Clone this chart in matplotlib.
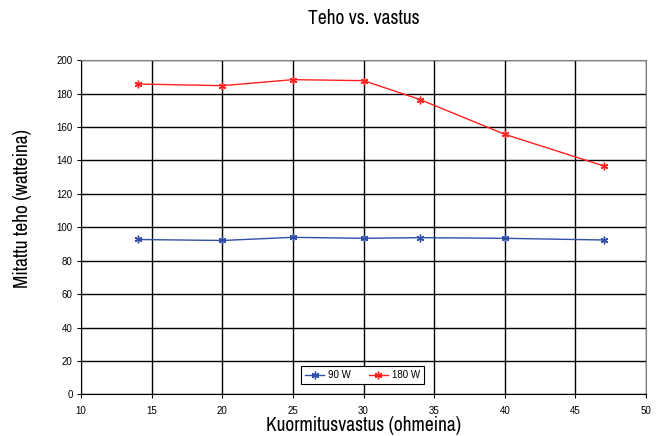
import matplotlib
matplotlib.use("Agg")
import matplotlib.pyplot as plt
from matplotlib import font_manager

# pick a condensed sans face if one is installed
fam, stretch = 'Liberation Sans', 'normal'
for f in font_manager.fontManager.ttflist:
    if 'Narrow' in f.name or 'Condensed' in f.name:
        fam, stretch = f.name, 'normal'
        break
else:
    for f in font_manager.fontManager.ttflist:
        if f.stretch in ('condensed', 'semi-condensed') or f.stretch in (300, 400 - 100):
            fam, stretch = f.name, f.stretch
            break
plt.rcParams['font.family'] = [fam, 'DejaVu Sans']
plt.rcParams['font.stretch'] = stretch
small = {'family': ['Liberation Sans', 'DejaVu Sans'], 'stretch': 'normal'}

resistance = [14, 20, 25, 30, 34, 40, 47]
power_90 = [92.7, 92.1, 94.0, 93.4, 93.8, 93.4, 92.4]
power_180 = [185.7, 184.7, 188.3, 187.7, 176.4, 155.6, 136.7]

fig = plt.figure(figsize=(6.62, 4.36), dpi=100)
ax = fig.add_axes([0.1224, 0.0952, 0.8535, 0.767])

star = (6, 2, 0)
ax.plot(resistance, power_90, color='#3050a8', lw=1, marker=star, ms=5.5, mew=1, label='90 W')
ax.plot(resistance, power_180, color='#ff2020', lw=1, marker=star, ms=5.5, mew=1, label='180 W')

ax.set_xlim(10, 50)
ax.set_ylim(0, 200)
ax.set_xticks(range(10, 51, 5))
ax.set_yticks(range(0, 201, 20))
ax.grid(True, color='black', lw=1)
ax.set_axisbelow(True)
for s in ['top', 'right']:
    ax.spines[s].set_color('#808080')
for s in ['left', 'bottom']:
    ax.spines[s].set_color('black')
ax.tick_params(labelsize=7, length=3, width=0.8, pad=3)
ax.tick_params(axis='x', pad=5)
for lab in ax.get_xticklabels() + ax.get_yticklabels():
    lab.set_family(small['family'])
    lab.set_stretch('normal')

ax.set_title('Teho vs. vastus', fontsize=14, pad=26)
ax.set_xlabel('Kuormitusvastus (ohmeina)', fontsize=14, labelpad=0)
ax.set_ylabel('Mitattu teho (watteina)', fontsize=14, labelpad=0)
ax.yaxis.set_label_coords(-0.087, 0.555)

leg = ax.legend(loc='center', bbox_to_anchor=(0.498, 0.058), ncol=2,
                prop={'family': small['family'], 'size': 7},
                frameon=True, fancybox=False, edgecolor='black', framealpha=1,
                handlelength=2.0, handletextpad=0.4, columnspacing=1.8, borderpad=0.4)
leg.get_frame().set_linewidth(0.8)

fig.savefig('out.png', dpi=100)
